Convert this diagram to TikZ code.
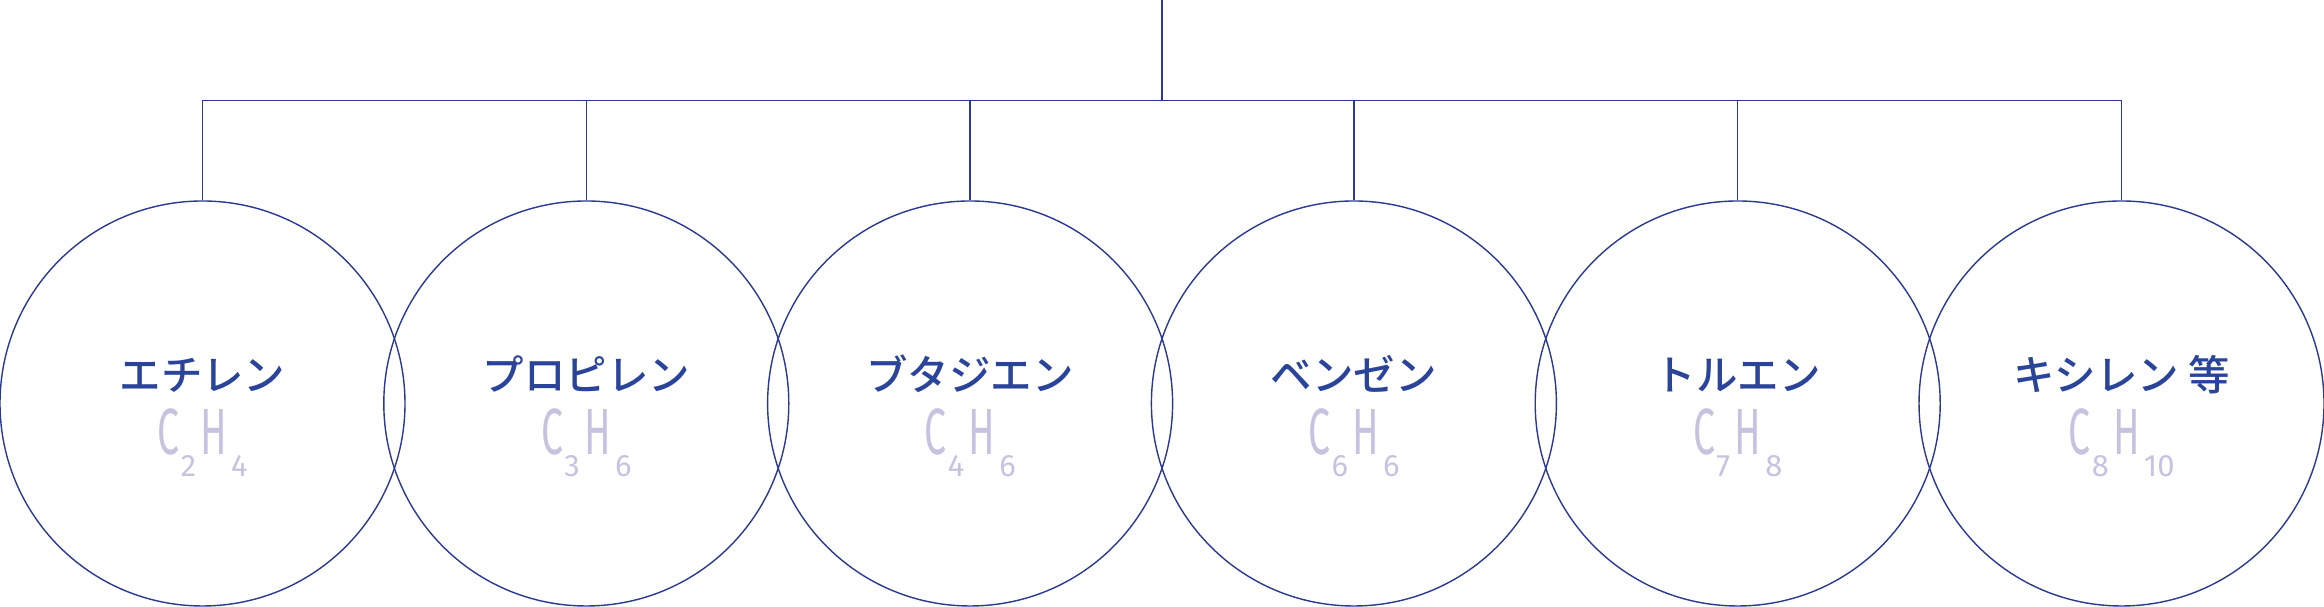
\documentclass[tikz,border=0pt]{standalone}
\usepackage{fontspec}
\IfFontExistsTF{Noto Sans CJK JP Medium}
  {\newfontfamily\jpfont{Noto Sans CJK JP Medium}}
  {\newfontfamily\jpfont{Noto Sans CJK JP}}
\newfontfamily\formfont[FakeStretch=0.6]{Fira Sans}
\newfontfamily\subfont{Fira Sans}
\definecolor{linecol}{HTML}{2B3990}
\definecolor{namecol}{HTML}{2A4499}
\definecolor{formcol}{HTML}{C5C3E0}
\newcommand{\formula}[2]{{\fontsize{18.6}{20}\formfont C}\kern0.4pt\raisebox{-0.22cm}{\fontsize{8.8}{10}\subfont #1}\kern1.2pt{\fontsize{18.6}{20}\formfont H}\kern1.2pt\raisebox{-0.22cm}{\fontsize{8.8}{10}\subfont #2}}
\begin{document}
\begin{tikzpicture}
        \tikzstyle{ball} = [circle, draw=linecol, line width=.4pt, minimum size=4.05cm, inner sep=0pt]
        \tikzstyle{molname} = [text=namecol, font=\jpfont\fontsize{11.8}{14}\selectfont, anchor=base, inner sep=0pt]
        \tikzstyle{molform} = [text=formcol, anchor=base, inner sep=0pt]
        \tikzstyle{line} = [draw=linecol, line width=.4pt]
        \useasboundingbox (0,0) rectangle (23.24,6.07);
        \node[ball] (ethylene) at (2.025,2.035) {};
        \node[ball] (propylene) at (5.863,2.035) {};
        \node[ball] (butadiene) at (9.701,2.035) {};
        \node[ball] (benzene) at (13.539,2.035) {};
        \node[ball] (toluene) at (17.377,2.035) {};
        \node[ball] (xylene) at (21.215,2.035) {};
        \node[molname] (ethylenetxt) at (2.025,2.16) {エチレン};
        \node[molname] (propylenetxt) at (5.863,2.16) {プロピレン};
        \node[molname] (butadienetxt) at (9.701,2.16) {ブタジエン};
        \node[molname] (benzenetxt) at (13.539,2.16) {ベンゼン};
        \node[molname] (toluenetxt) at (17.377,2.16) {トルエン};
        \node[molname] (xylenetxt) at (21.215,2.16) {キシレン 等};
        \node[molform] (ethyleneform) at (2.025,1.52) {\formula{2}{4}};
        \node[molform] (propyleneform) at (5.863,1.52) {\formula{3}{6}};
        \node[molform] (butadieneform) at (9.701,1.52) {\formula{4}{6}};
        \node[molform] (benzeneform) at (13.539,1.52) {\formula{6}{6}};
        \node[molform] (tolueneform) at (17.377,1.52) {\formula{7}{8}};
        \node[molform] (xyleneform) at (21.215,1.52) {\formula{8}{10}};
        \coordinate (root) at (11.62,6.07);
        \coordinate (bus) at (11.62,5.063);
        \draw[line] (root) -- (bus);
        \draw[line] (ethylene.north) -- (ethylene.north |- bus) -- (xylene.north |- bus) -- (xylene.north);
        \draw[line] (propylene.north) -- (propylene.north |- bus);
        \draw[line] (butadiene.north) -- (butadiene.north |- bus);
        \draw[line] (benzene.north) -- (benzene.north |- bus);
        \draw[line] (toluene.north) -- (toluene.north |- bus);
    \end{tikzpicture}
\end{document}
